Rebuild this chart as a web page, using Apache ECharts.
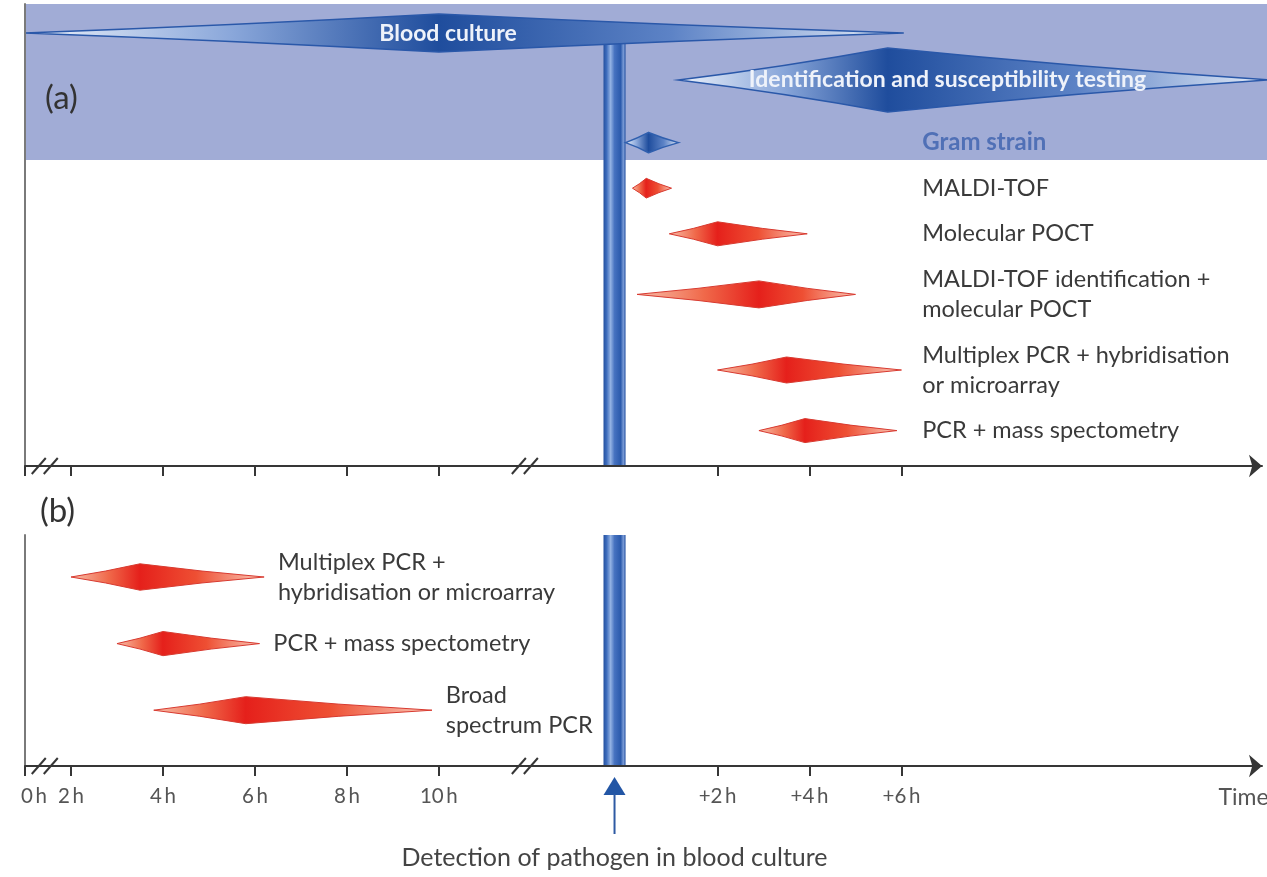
<!DOCTYPE html>
<html><head><meta charset="utf-8">
<script src="https://cdn.jsdelivr.net/npm/echarts@6/dist/echarts.min.js"></script>
<style>html,body{margin:0;padding:0;background:#fff;overflow:hidden}#c{width:1267px;height:877px}</style>
</head><body><div id="c"></div>
<script>
// ================= DATA =================
// Times: plain numbers = hours after sampling; strings starting with '+' = hours after detection
const headerLabels = ['Blood culture', 'Identification and susceptibility testing'];
const headerStart  = ['0', '+1.15'];
const headerPeak   = ['10', '+5.7'];
const headerEnd    = ['+6.05', '+14'];
const headerTextAt = ['10.2', '+7.0'];

// Panel (a): hours after detection of pathogen in blood culture
const panelALabels = ['Gram strain', 'MALDI-TOF', 'Molecular POCT', 'MALDI-TOF identification +\nmolecular POCT', 'Multiplex PCR + hybridisation\nor microarray', 'PCR + mass spectometry'];
const panelAStart = [0.0, 0.15, 0.95, 0.25, 2.0, 2.9];
const panelAPeak  = [0.5, 0.45, 2.0, 2.9, 3.5, 3.9];
const panelAEnd   = [1.15, 1.0, 3.95, 5.0, 6.0, 5.9];

// Panel (b): hours after sampling (direct from blood)
const panelBLabels = ['Multiplex PCR +\nhybridisation or microarray', 'PCR + mass spectometry', 'Broad\nspectrum PCR'];
const panelBStart = [2.0, 3.0, 3.8];
const panelBPeak  = [3.5, 4.0, 5.8];
const panelBEnd   = [6.2, 6.1, 9.85];

const preTickHours  = [0, 2, 4, 6, 8, 10];
const postTickHours = [2, 4, 6];
const axisTitle = 'Time';
const detectionLabel = 'Detection of pathogen in blood culture';
const detectionSpan = [-0.48, 0];     // detection bar, hours relative to post-detection clock
const breakHours = [0.86, 11.87];     // axis breaks (hours after sampling)

// ================= SCALE (broken time axis) =================
const POST_SHIFT = 14.06;
const X_MIN = 1, X_MAX = 27.9;
function pre(h) { return h < 2 ? 1 + h / 2 : h; }
function post(h) { return POST_SHIFT + h; }
function parseT(s) { return s[0] === '+' ? post(parseFloat(s)) : pre(parseFloat(s)); }

// ================= LAYOUT =================
const FONT = 'Lato';
const TEXT_COLOR = '#3a3a3a';
const Y_MAX_A = 15.4, Y_MAX_B = 7.7;
function nLines(s) { return s.split('\n').length; }
function layoutRows(labels, first, gap) {
  const ys = []; let y = first;
  labels.forEach((l, i) => {
    if (i > 0) y += (nLines(labels[i - 1]) + nLines(l)) / 2 + gap;
    ys.push(y);
  });
  return ys;
}
const rowsA = layoutRows(panelALabels, 4.62, 0.52);
const rowsB = layoutRows(panelBLabels, 1.4, 0.72);
const headerRows = [0.97, 2.53];
const headerHalf = [19, 32];

// ================= HELPERS =================
function diamondPath(x0, xp, x1, yc, hh) {
  const k = 0.4;
  return `M${x0},${yc} Q${(x0 + xp) / 2},${yc - hh * k} ${xp},${yc - hh} ` +
         `Q${(xp + x1) / 2},${yc - hh * k} ${x1},${yc} ` +
         `Q${(xp + x1) / 2},${yc + hh * k} ${xp},${yc + hh} ` +
         `Q${(x0 + xp) / 2},${yc + hh * k} ${x0},${yc} Z`;
}
function clamp01(v) { return Math.max(0.001, Math.min(0.999, v)); }
function redFill(p) {
  p = clamp01(p);
  return new echarts.graphic.LinearGradient(0, 0, 1, 0, [
    { offset: 0, color: '#f8c0ac' },
    { offset: p * 0.55, color: '#f0694a' },
    { offset: p, color: '#e5201b' },
    { offset: p + (1 - p) * 0.45, color: '#ee4f33' },
    { offset: 1, color: '#fbcab9' }
  ]);
}
function blueFill(p) {
  p = clamp01(p);
  return new echarts.graphic.LinearGradient(0, 0, 1, 0, [
    { offset: 0, color: '#eef3fb' },
    { offset: p * 0.5, color: '#8aa7da' },
    { offset: p, color: '#1f4d9d' },
    { offset: p + (1 - p) * 0.5, color: '#5d83c6' },
    { offset: 1, color: '#e6edf8' }
  ]);
}

function rowItems(start, peak, end, rows, map) {
  return start.map((s, i) => [map(s), map(peak[i]), map(end[i]), rows[i]]);
}

function makeDiamondSeries(gridIdx, labels, data, labelPos) {
  return {
    type: 'custom', xAxisIndex: gridIdx, yAxisIndex: gridIdx, z: 4,
    data: data,
    renderItem: function (params, api) {
      const i = params.dataIndex;
      const v0 = api.value(0), vp = api.value(1), v1 = api.value(2), r = api.value(3);
      const s = api.coord([v0, r]), pk = api.coord([vp, r]), e = api.coord([v1, r]);
      const hh = Math.min(13.5, 9 + (v1 - v0));
      const isGram = labels[i] === 'Gram strain';
      const p = (pk[0] - s[0]) / (e[0] - s[0]);
      const lp = api.coord([labelPos(i, v1), r]);
      return {
        type: 'group',
        children: [
          { type: 'path', shape: { pathData: diamondPath(s[0], pk[0], e[0], s[1], hh) },
            style: { fill: isGram ? blueFill(p) : redFill(p), stroke: isGram ? '#2f5fae' : '#d83a30', lineWidth: isGram ? 1.5 : 1 } },
          { type: 'text', style: { text: labels[i], x: lp[0], y: lp[1], fill: isGram ? '#5070b6' : TEXT_COLOR,
              fontSize: isGram ? 24 : 23.5, fontFamily: FONT, fontWeight: isGram ? 'bold' : 'normal',
              verticalAlign: 'middle', align: 'left', lineHeight: 30 } }
        ]
      };
    }
  };
}

const maxEndA = Math.max.apply(null, panelAEnd);
const tickVals = preTickHours.map(pre).concat(postTickHours.map(post));
const tickTexts = preTickHours.map(h => h + '\u2009h').concat(postTickHours.map(h => '+' + h + '\u2009h'));
const TIME_V = 27.5;
const labelVals = tickVals.concat([TIME_V]);
const labelTexts = tickTexts.concat([axisTitle]);

function xAxisCfg(gridIdx, showLabels) {
  return {
    type: 'value', gridIndex: gridIdx, min: X_MIN, max: X_MAX, z: 10,
    splitLine: { show: false },
    axisLine: { show: true, onZero: false, symbol: ['none', 'arrow'], symbolSize: [17, 13],
      lineStyle: { color: '#363636', width: 2 } },
    axisTick: { show: true, customValues: tickVals, length: 10, lineStyle: { color: '#363636', width: 2 } },
    axisLabel: { show: showLabels, customValues: labelVals, margin: 20, fontSize: 20.5, fontFamily: FONT, color: '#555',
      hideOverlap: false,
      formatter: function (v) {
        const i = labelVals.findIndex(x => Math.abs(x - v) < 1e-6);
        if (i < 0) return '';
        if (i === 0) return '{first|' + labelTexts[i] + '}';
        if (i === labelVals.length - 1) return '{time|' + labelTexts[i] + '}';
        return labelTexts[i];
      },
      rich: {
        first: { padding: [0, 0, 0, 18], fontSize: 20.5, fontFamily: FONT, color: '#555' },
        time: { fontSize: 23, fontFamily: FONT, color: '#555' }
      } }
  };
}
function yAxisCfg(gridIdx, max) {
  return {
    type: 'value', gridIndex: gridIdx, min: 0, max: max, inverse: true, z: 10,
    splitLine: { show: false }, axisTick: { show: false }, axisLabel: { show: false },
    axisLine: { show: true, onZero: false, lineStyle: { color: '#7a7a7a', width: 2 } }
  };
}

function breakSeries(gridIdx, yMax) {
  return {
    type: 'custom', xAxisIndex: gridIdx, yAxisIndex: gridIdx, z: 12,
    data: breakHours.map(h => [pre(h), yMax]),
    renderItem: function (params, api) {
      const c = api.coord([api.value(0), api.value(1)]);
      const mk = dx => ({ type: 'line', shape: { x1: c[0] + dx - 7, y1: c[1] + 8, x2: c[0] + dx + 7, y2: c[1] - 8 },
        style: { stroke: '#363636', lineWidth: 2 } });
      return { type: 'group', children: [mk(-6), mk(6)] };
    }
  };
}

const barFill = () => new echarts.graphic.LinearGradient(0, 0, 1, 0, [
  { offset: 0, color: '#24509f' }, { offset: 0.14, color: '#3e6dbd' }, { offset: 0.32, color: '#93b2e3' },
  { offset: 0.5, color: '#4672c0' }, { offset: 0.78, color: '#2b5aac' }, { offset: 0.9, color: '#7a9bd6' },
  { offset: 1, color: '#2552a2' }
]);

const option = {
  animation: false,
  backgroundColor: '#ffffff',
  title: [
    { text: '(a)', left: 40, top: 77, textStyle: { fontSize: 33, fontWeight: 'normal', color: '#333', fontFamily: FONT } },
    { text: '(b)', left: 35, top: 490, textStyle: { fontSize: 33, fontWeight: 'normal', color: '#333', fontFamily: FONT } }
  ],
  grid: [
    { left: 25, right: 5, top: 4, height: 462, containLabel: false, outerBoundsMode: 'none' },
    { left: 25, right: 5, top: 535, height: 231, containLabel: false, outerBoundsMode: 'none' }
  ],
  xAxis: [xAxisCfg(0, false), xAxisCfg(1, true)],
  yAxis: [yAxisCfg(0, Y_MAX_A), yAxisCfg(1, Y_MAX_B)],
  series: [
    // shaded band of panel (a)
    { type: 'custom', xAxisIndex: 0, yAxisIndex: 0, z: 1,
      data: [[X_MIN, 0, X_MAX, rowsA[0] + 0.58]],
      renderItem: function (params, api) {
        const a = api.coord([api.value(0), api.value(1)]);
        const b = api.coord([api.value(2), api.value(3)]);
        return { type: 'rect', shape: { x: a[0], y: a[1], width: api.getWidth() - a[0], height: b[1] - a[1] },
          style: { fill: '#a1acd6' } };
      } },
    // detection bar, panel (a)
    { type: 'custom', xAxisIndex: 0, yAxisIndex: 0, z: 2,
      data: [[post(detectionSpan[0]), post(detectionSpan[1]), headerRows[0], Y_MAX_A]],
      renderItem: function (params, api) {
        const a = api.coord([api.value(0), api.value(2)]);
        const b = api.coord([api.value(1), api.value(3)]);
        return { type: 'rect', shape: { x: a[0], y: a[1], width: b[0] - a[0], height: b[1] - a[1] }, style: { fill: barFill() } };
      } },
    // header diamonds
    { type: 'custom', xAxisIndex: 0, yAxisIndex: 0, z: 3,
      data: headerLabels.map((l, i) => [parseT(headerStart[i]), parseT(headerPeak[i]), parseT(headerEnd[i]), headerRows[i], parseT(headerTextAt[i])]),
      renderItem: function (params, api) {
        const i = params.dataIndex, r = api.value(3);
        const s = api.coord([api.value(0), r]), pk = api.coord([api.value(1), r]), e = api.coord([api.value(2), r]);
        const t = api.coord([api.value(4), r]);
        const p = (pk[0] - s[0]) / (e[0] - s[0]);
        return { type: 'group', children: [
          { type: 'path', shape: { pathData: diamondPath(s[0], pk[0], e[0], s[1], headerHalf[i]) },
            style: { fill: blueFill(p), stroke: '#2a58a9', lineWidth: 1.5 } },
          { type: 'text', style: { text: headerLabels[i], x: t[0], y: t[1], fill: '#eef2fa', fontSize: 23,
              fontWeight: 'bold', fontFamily: FONT, align: 'center', verticalAlign: 'middle' } }
        ] };
      } },
    makeDiamondSeries(0, panelALabels, rowItems(panelAStart, panelAPeak, panelAEnd, rowsA, post),
      (i, v1) => post(maxEndA + 0.45)),
    // detection bar + arrow + caption, panel (b)
    { type: 'custom', xAxisIndex: 1, yAxisIndex: 1, z: 2,
      data: [[post(detectionSpan[0]), post(detectionSpan[1]), 0, Y_MAX_B]],
      renderItem: function (params, api) {
        const a = api.coord([api.value(0), api.value(2)]);
        const b = api.coord([api.value(1), api.value(3)]);
        const cx = (a[0] + b[0]) / 2, ay = b[1];
        return { type: 'group', children: [
          { type: 'rect', shape: { x: a[0], y: a[1], width: b[0] - a[0], height: b[1] - a[1] }, style: { fill: barFill() } },
          { type: 'polygon', shape: { points: [[cx, ay + 11], [cx - 11, ay + 29], [cx + 11, ay + 29]] }, style: { fill: '#2356a5' } },
          { type: 'line', shape: { x1: cx, y1: ay + 28, x2: cx, y2: ay + 68 }, style: { stroke: '#2e5aa3', lineWidth: 2 } },
          { type: 'text', style: { text: detectionLabel, x: cx, y: ay + 92, fill: '#444', fontSize: 25, fontFamily: FONT,
              align: 'center', verticalAlign: 'middle' } }
        ] };
      } },
    makeDiamondSeries(1, panelBLabels, rowItems(panelBStart, panelBPeak, panelBEnd, rowsB, pre),
      (i, v1) => v1 + 0.3),
    breakSeries(0, Y_MAX_A),
    breakSeries(1, Y_MAX_B)
  ]
};

const chart = echarts.init(document.getElementById('c'), null, { renderer: 'canvas' });
chart.setOption(option);
</script>
</body></html>
